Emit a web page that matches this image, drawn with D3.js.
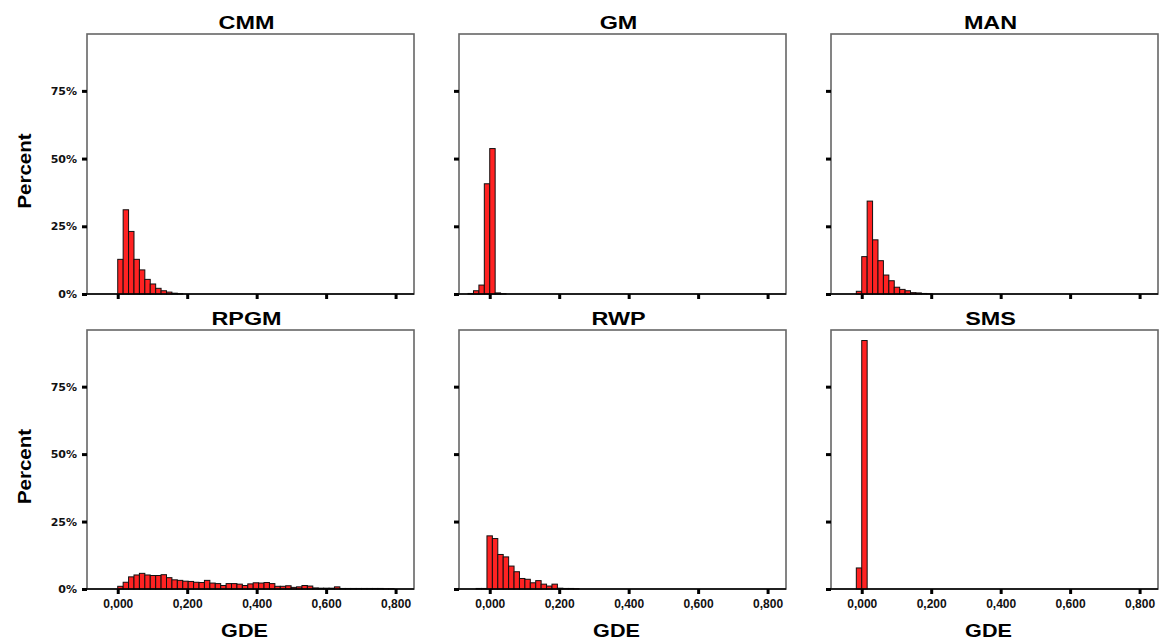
<!DOCTYPE html>
<html><head><meta charset="utf-8">
<script src="https://cdn.jsdelivr.net/npm/d3@7"></script>
<style>body{margin:0;background:#fff}svg{display:block}</style>
</head><body>
<svg id="chart" width="1165" height="641"></svg>
<script>
// ---- data ----
const panelNames = ["CMM", "GM", "MAN", "RPGM", "RWP", "SMS"];
const binWidth = 0.0156;
const cmmStart = 0;
const cmmPct = [12.8, 31.1, 23.1, 12.8, 8.9, 5.4, 3.7, 2.1, 1.2, 0.7, 0.3, 0.1];
const gmStart = -0.0624;
const gmPct = [0.2, 1.2, 3.3, 40.7, 53.7, 0.4, 0.1];
const manStart = -0.0156;
const manPct = [1.0, 13.8, 34.3, 20.0, 12.3, 7.0, 4.9, 2.5, 1.7, 1.2, 0.5, 0.4, 0.2, 0.1];
const rpgmStart = 0;
const rpgmPct = [1.0, 2.5, 4.5, 5.2, 5.8, 5.2, 5.0, 5.0, 5.3, 4.2, 3.4, 3.2, 2.9, 2.8, 2.5, 2.4,
  3.2, 2.2, 2.0, 1.3, 2.0, 2.0, 1.8, 1.3, 1.9, 2.3, 2.2, 2.4, 2.0, 1.0, 1.0, 1.2, 0.6, 0.8, 1.3,
  1.1, 0.4, 0.3, 0.3, 0.3, 0.8, 0.2, 0.2, 0.2, 0.2, 0.2, 0.2, 0.2, 0.2, 0.1, 0.1];
const rwpStart = -0.0392;
const rwpPct = [0.2, 0.2, 19.7, 18.7, 12.8, 11.9, 8.5, 6.4, 3.9, 3.6, 2.3, 3.1, 1.8, 1.1, 1.8, 0.3, 0.2, 0.2, 0.1];
const smsStart = -0.0156;
const smsPct = [7.8, 92.1];
const panelStarts = [cmmStart, gmStart, manStart, rpgmStart, rwpStart, smsStart];
const panelPcts = [cmmPct, gmPct, manPct, rpgmPct, rwpPct, smsPct];
const xTicks = [0, 0.2, 0.4, 0.6, 0.8];
const xTickLabels = ["0,000", "0,200", "0,400", "0,600", "0,800"];
const yTicks = [0, 25, 50, 75];
const yTickLabels = ["0%", "25%", "50%", "75%"];
const xLabel = "GDE";
const yLabel = "Percent";

// ---- layout ----
const svg = d3.select("#chart");
const pw = 327;
const lefts = [87, 459, 831];
const tops = [34, 330];
const heights = [260, 259];
const font = "'Liberation Sans', Arial, sans-serif";
const wide = "'DejaVu Sans', Verdana, sans-serif";

panelNames.forEach((name, i) => {
  const col = i % 3, row = Math.floor(i / 3);
  const ph = heights[row];
  const g = svg.append("g").attr("transform", `translate(${lefts[col]},${tops[row]})`);
  const x = d3.scaleLinear().domain([-0.0885, 0.853]).range([0, pw]);
  const y = d3.scaleLinear().domain([0, 96]).range([ph, 0]);

  // frame
  g.append("rect").attr("x", 0).attr("y", 0).attr("width", pw).attr("height", ph)
    .attr("fill", "none").attr("stroke", "#666").attr("stroke-width", 1.6);

  // bars
  const bins = panelPcts[i].map((v, k) => ({x0: panelStarts[i] + k * binWidth, v}));
  g.selectAll("rect.bar").data(bins).enter().append("rect")
    .attr("class", "bar")
    .attr("x", d => x(d.x0))
    .attr("width", d => x(d.x0 + binWidth) - x(d.x0))
    .attr("y", d => y(d.v))
    .attr("height", d => ph - y(d.v))
    .attr("fill", "#ff2222").attr("stroke", "#111").attr("stroke-width", 1);

  // baseline
  g.append("line").attr("x1", 0).attr("x2", pw).attr("y1", ph).attr("y2", ph)
    .attr("stroke", "#000").attr("stroke-width", 1.6);

  // x axis
  const xa = d3.axisBottom(x).tickValues(xTicks).tickSize(5).tickPadding(5)
    .tickFormat((d, j) => row === 1 ? xTickLabels[j] : "");
  const gx = g.append("g").attr("transform", `translate(0,${ph})`).call(xa);
  gx.select(".domain").remove();
  gx.selectAll(".tick line").attr("stroke", "#000").attr("stroke-width", 3);
  gx.selectAll(".tick text").attr("font-family", font).attr("font-weight", "bold")
    .attr("font-size", 12).attr("fill", "#111");

  // y axis
  const ya = d3.axisLeft(y).tickValues(yTicks).tickSize(5).tickPadding(5)
    .tickFormat((d, j) => col === 0 ? yTickLabels[j] : "");
  const gy = g.append("g").call(ya);
  gy.select(".domain").remove();
  gy.selectAll(".tick line").attr("stroke", "#000").attr("stroke-width", 3);
  gy.selectAll(".tick text").attr("font-family", wide).attr("font-weight", "bold")
    .attr("font-size", 11).attr("fill", "#111");

  // title
  g.append("text").attr("transform", `translate(${pw / 2 - 4},${-5}) scale(1.3,1)`)
    .attr("text-anchor", "middle").attr("font-family", font).attr("font-weight", "bold")
    .attr("font-size", 18).text(name);

  if (row === 1) {
    g.append("text").attr("transform", `translate(${pw / 2 - 6},${ph + 48}) scale(1.2,1)`)
      .attr("text-anchor", "middle").attr("font-family", font).attr("font-weight", "bold")
      .attr("font-size", 18).text(xLabel);
  }
  if (col === 0) {
    g.append("text").attr("transform", `translate(-56,${ph / 2 + 7}) rotate(-90) scale(1.08,1)`)
      .attr("text-anchor", "middle").attr("font-family", font).attr("font-weight", "bold")
      .attr("font-size", 19).text(yLabel);
  }
});
</script>
</body></html>
